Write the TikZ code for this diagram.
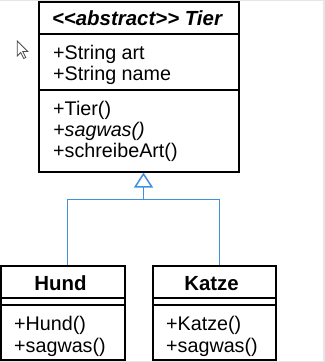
\documentclass[tikz,border=0pt]{standalone}
\usepackage{fontspec}
\setmainfont{Liberation Sans}
\usetikzlibrary{arrows.meta}
\definecolor{umlblue}{RGB}{66,143,222}
\definecolor{framegray}{RGB}{230,230,230}
\newcommand\ltlt{<\kern0pt<}
\newcommand\gtgt{>\kern0pt>}
\begin{document}
\begin{tikzpicture}[x=1bp,y=-1bp,
  box/.style={draw=black,line width=2bp,inner sep=0pt},
  sep/.style={draw=black,line width=2bp},
  txt/.style={anchor=base west,inner sep=0pt,font=\fontsize{19.8}{21}\selectfont},
  ttl/.style={anchor=base,inner sep=0pt,font=\fontsize{20.5}{21}\selectfont\bfseries},
  gen/.style={draw=umlblue,line width=1.5bp}]
\useasboundingbox (0,0) rectangle (325,362);
\fill[white] (0,0) rectangle (325,362);
\fill[framegray] (0,0) rectangle (325,1.3);
\fill[framegray] (323,0) rectangle (325,362);
\fill[framegray] (0,360.6) rectangle (325,362);

% cursor
\draw[fill=white,draw=black!70,line width=0.8bp,line join=miter]
  (17.3,41) -- ++(0,15) -- ++(3.5,-3.5) -- ++(3,6) -- ++(2,-1) -- ++(-3,-6) -- ++(5,0) -- cycle;

% Tier
\node[box,minimum width=199.5bp,minimum height=169.5bp] (tier) at (138.75,86.75) {};
\draw[sep] (tier.west |- 0,33.5) -- (tier.east |- 0,33.5);
\draw[sep] (tier.west |- 0,89.5) -- (tier.east |- 0,89.5);
\node[ttl] (tiert) at (137,25) {\itshape\ltlt abstract\gtgt\ Tier};
\node[txt] (a1) at (53,59) {+String art};
\node[txt] (a2) at (53,80) {+String name};
\node[txt] (m1) at (53,115.2) {+Tier()};
\node[txt] (m2) at (53,136.5) {\itshape +sagwas()};
\node[txt] (m3) at (53,157.8) {+schreibeArt()};

% Hund
\node[box,minimum width=123.5bp,minimum height=93.5bp] (hund) at (62.75,312.75) {};
\draw[sep] (hund.west |- 0,298) -- (hund.east |- 0,298);
\draw[sep] (hund.west |- 0,305.3) -- (hund.east |- 0,305.3);
\node[ttl] (hundt) at (60.5,290) {Hund};
\node[txt] (h1) at (14,330.7) {+Hund()};
\node[txt] (h2) at (14,352) {+sagwas()};

% Katze
\node[box,minimum width=123bp,minimum height=93.5bp] (katze) at (214.5,312.75) {};
\draw[sep] (katze.west |- 0,298) -- (katze.east |- 0,298);
\draw[sep] (katze.west |- 0,305.3) -- (katze.east |- 0,305.3);
\node[ttl] (katzet) at (211.5,290) {Katze};
\node[txt] (k1) at (166,330.7) {+Katze()};
\node[txt] (k2) at (166,352) {+sagwas()};

% generalization
\coordinate (hc) at (67.5,265);
\coordinate (kc) at (219.5,265);
\coordinate (j) at (143.5,199.5);
\coordinate (tp) at (143.5,172.6);
\draw[gen] (hc) |- (j) -| (kc);
\draw[gen,-{Triangle[open,width=19bp,length=15bp]}] (j) -- (tp);
\end{tikzpicture}
\end{document}
